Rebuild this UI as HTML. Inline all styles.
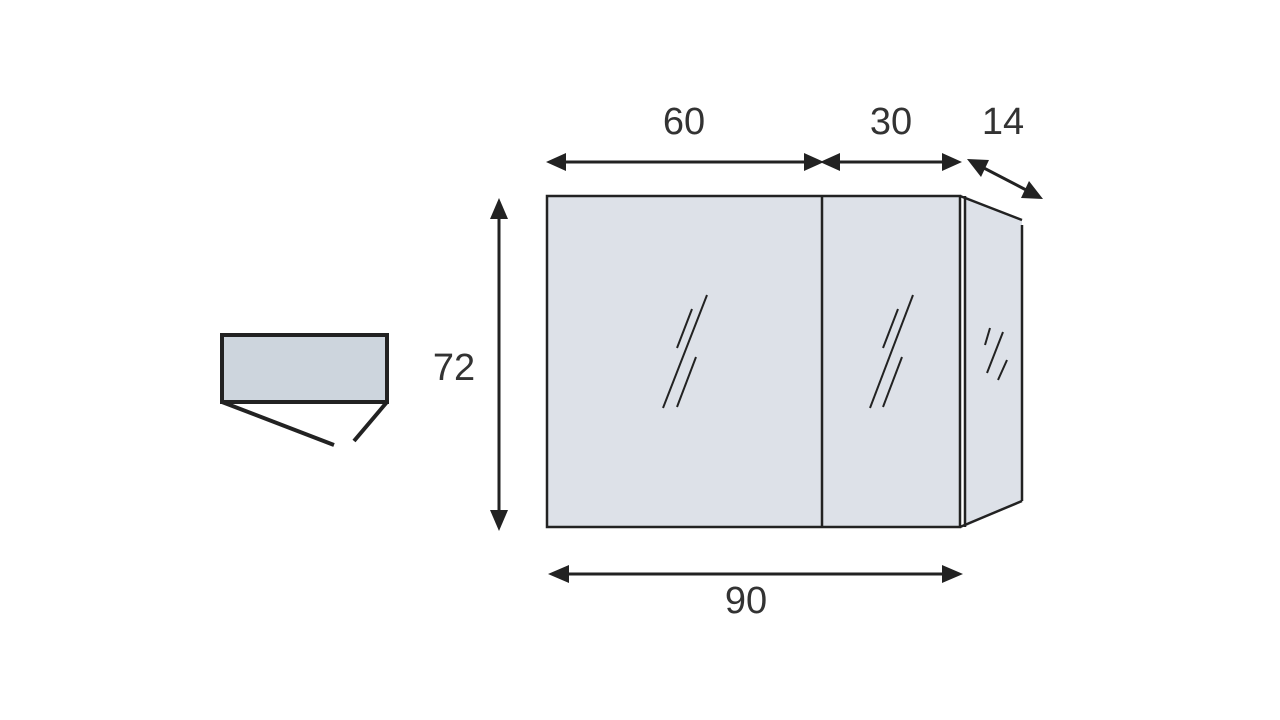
<!DOCTYPE html>
<html><head><meta charset="utf-8"><style>
html,body{margin:0;padding:0;background:#fff;}
svg{display:block}
text{font-family:"Liberation Sans",sans-serif;font-size:38px;fill:#333;}
</style></head><body>
<svg width="1280" height="720" viewBox="0 0 1280 720" xmlns="http://www.w3.org/2000/svg">
<g stroke="#222" fill="none">
<rect x="222" y="335" width="165" height="67" fill="#cdd5dd" stroke-width="4"/>
<line x1="222" y1="402" x2="334" y2="445" stroke-width="4"/>
<line x1="387" y1="402" x2="354" y2="441" stroke-width="4"/>
<polygon points="965,196 1022,220 1022,500 965,527" fill="#dde1e8" stroke="none"/>
<rect x="547" y="196" width="413" height="331" fill="#dde1e8" stroke-width="2.5"/>
<line x1="822" y1="196" x2="822" y2="527" stroke-width="2.5"/>
<line x1="965" y1="196" x2="965" y2="527" stroke-width="2.5"/>
<line x1="960" y1="196" x2="1022" y2="220" stroke-width="2.5"/>
<line x1="960" y1="527" x2="1022" y2="501" stroke-width="2.5"/>
<line x1="1022" y1="225" x2="1022" y2="501" stroke-width="2.5"/>
<g stroke-width="2">
<line x1="707" y1="295" x2="663" y2="408"/><line x1="692" y1="309" x2="677" y2="348"/><line x1="696" y1="357" x2="677" y2="407"/>
<line x1="913" y1="295" x2="870" y2="408"/><line x1="898" y1="309" x2="883" y2="348"/><line x1="902" y1="357" x2="883" y2="407"/>
<line x1="990" y1="328" x2="985" y2="345"/><line x1="1003" y1="332" x2="987" y2="373"/><line x1="1007" y1="360" x2="998" y2="380"/>
</g>
<g stroke-width="3">
<line x1="560" y1="162" x2="810" y2="162"/>
<line x1="834" y1="162" x2="948" y2="162"/>
<line x1="980" y1="166" x2="1030" y2="192"/>
<line x1="499" y1="212" x2="499" y2="516"/>
<line x1="562" y1="574" x2="950" y2="574"/>
</g>
</g>
<g fill="#222">
<polygon points="546,162 566,153 566,171"/>
<polygon points="824,162 804,153 804,171"/>
<polygon points="820,162 840,153 840,171"/>
<polygon points="962,162 942,153 942,171"/>
<polygon points="967,159 989,160 981,177"/>
<polygon points="1043,199 1021,198 1029,181"/>
<polygon points="499,198 490,219 508,219"/>
<polygon points="499,531 490,510 508,510"/>
<polygon points="548,574 569,565 569,583"/>
<polygon points="963,574 942,565 942,583"/>
</g>
<text x="684" y="134" text-anchor="middle">60</text>
<text x="891" y="134" text-anchor="middle">30</text>
<text x="1003" y="134" text-anchor="middle">14</text>
<text x="454" y="380" text-anchor="middle">72</text>
<text x="746" y="613" text-anchor="middle">90</text>
</svg>
</body></html>
